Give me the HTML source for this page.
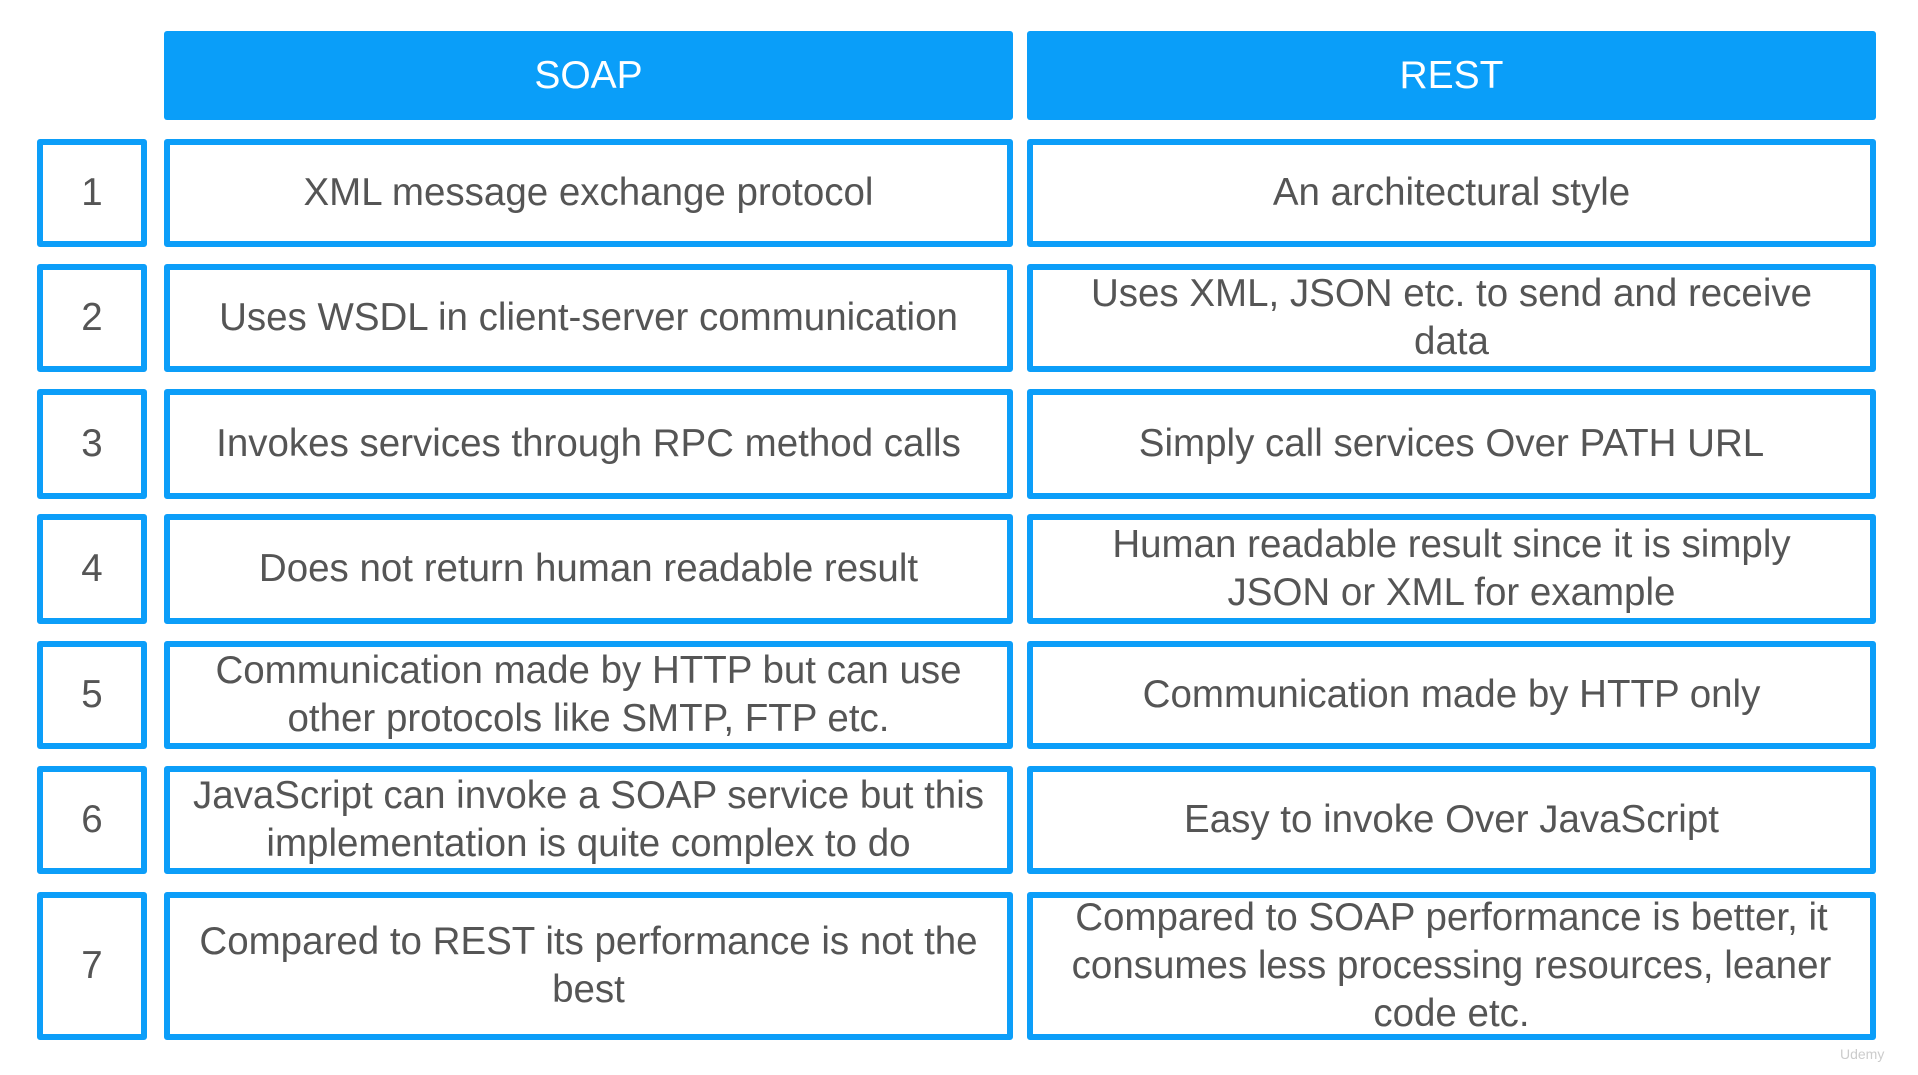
<!DOCTYPE html>
<html><head><style>
body{margin:0;width:1918px;height:1075px;background:#fff;position:relative;overflow:hidden;font-family:"Liberation Sans",sans-serif;}
.b{position:absolute;box-sizing:border-box;border:6px solid #0c9ef9;border-radius:3px;display:flex;align-items:center;justify-content:center;text-align:center;color:#555;font-size:38.5px;line-height:48px;}
.h{position:absolute;box-sizing:border-box;background:#0a9ef9;border-radius:3px;display:flex;align-items:center;justify-content:center;color:#fff;font-size:39px;top:31px;height:89px;}
</style></head><body>
<div class="h" style="left:164px;width:849px">SOAP</div>
<div class="h" style="left:1027px;width:849px">REST</div>

<div class="b" style="left:37px;width:110px;top:139px;height:108px">1</div>
<div class="b" style="left:164px;width:849px;top:139px;height:108px">XML message exchange protocol</div>
<div class="b" style="left:1027px;width:849px;top:139px;height:108px">An architectural style</div>

<div class="b" style="left:37px;width:110px;top:264px;height:108px">2</div>
<div class="b" style="left:164px;width:849px;top:264px;height:108px">Uses WSDL in client-server communication</div>
<div class="b" style="left:1027px;width:849px;top:264px;height:108px">Uses XML, JSON etc. to send and receive<br>data</div>

<div class="b" style="left:37px;width:110px;top:389px;height:110px">3</div>
<div class="b" style="left:164px;width:849px;top:389px;height:110px">Invokes services through RPC method calls</div>
<div class="b" style="left:1027px;width:849px;top:389px;height:110px">Simply call services Over PATH URL</div>

<div class="b" style="left:37px;width:110px;top:514px;height:110px">4</div>
<div class="b" style="left:164px;width:849px;top:514px;height:110px">Does not return human readable result</div>
<div class="b" style="left:1027px;width:849px;top:514px;height:110px">Human readable result since it is simply<br>JSON or XML for example</div>

<div class="b" style="left:37px;width:110px;top:641px;height:108px">5</div>
<div class="b" style="left:164px;width:849px;top:641px;height:108px">Communication made by HTTP but can use<br>other protocols like SMTP, FTP etc.</div>
<div class="b" style="left:1027px;width:849px;top:641px;height:108px">Communication made by HTTP only</div>

<div class="b" style="left:37px;width:110px;top:766px;height:108px">6</div>
<div class="b" style="left:164px;width:849px;top:766px;height:108px">JavaScript can invoke a SOAP service but this<br>implementation is quite complex to do</div>
<div class="b" style="left:1027px;width:849px;top:766px;height:108px">Easy to invoke Over JavaScript</div>

<div class="b" style="left:37px;width:110px;top:892px;height:148px">7</div>
<div class="b" style="left:164px;width:849px;top:892px;height:148px">Compared to REST its performance is not the<br>best</div>
<div class="b" style="left:1027px;width:849px;top:892px;height:148px">Compared to SOAP performance is better, it<br>consumes less processing resources, leaner<br>code etc.</div>
<div style="position:absolute;left:1840px;top:1046px;color:#ccc;font-size:14px">Udemy</div>
</body></html>
